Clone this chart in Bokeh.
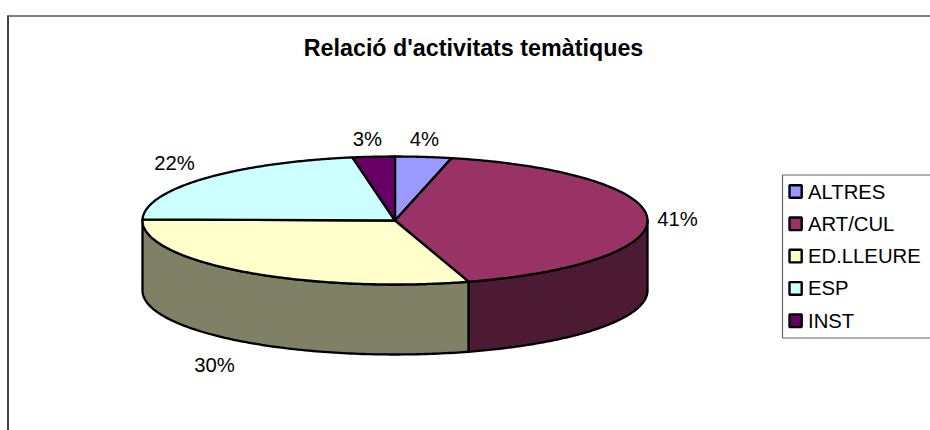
import numpy as np
from bokeh.embed import file_html
from bokeh.models import Range1d
from bokeh.plotting import figure
from bokeh.resources import INLINE
from bokeh.core.properties import value

TITLE = "Relació d'activitats temàtiques"
categories = ["ALTRES", "ART/CUL", "ED.LLEURE", "ESP", "INST"]
values = [3.6, 41.7, 30.0, 22.0, 2.7]
percent_labels = ["4%", "41%", "30%", "22%", "3%"]
top_colors = ["#9999FF", "#993366", "#FFFFCC", "#CCFFFF", "#660066"]
wall_colors = ["#4D4D80", "#4D1A33", "#808066", "#668080", "#330033"]

# layout, in screenshot pixels
CX, CY, RX, RY, DEPTH = 394.5, 220.0, 252.5, 64.0, 70.0
LABEL_POS = [(424, 138), (677, 218), (214, 364), (174, 162), (367, 138)]
FONT = value("Liberation Sans")

p = figure(width=930, height=430, output_backend="svg", toolbar_location=None,
           x_range=Range1d(0, 930), y_range=Range1d(430, 0), min_border=0,
           outline_line_color=None, background_fill_color="white")
p.axis.visible = False
p.grid.visible = False

# frame
p.line([7.5, 7.5], [15, 430], line_color="black", line_width=1.5)
p.line([7, 930], [15.5, 15.5], line_color="#555555", line_width=1.5)


def ell(theta):
    return CX + RX * np.sin(theta), CY - RY * np.cos(theta)


fractions = np.array(values) / sum(values)
edges = np.concatenate([[0], np.cumsum(fractions)]) * 2 * np.pi

# side walls (only the front half, pi/2 .. 3pi/2, is visible)
for i in range(len(values)):
    a = max(edges[i], np.pi / 2)
    b = min(edges[i + 1], 3 * np.pi / 2)
    if b <= a:
        continue
    t = np.linspace(a, b, 120)
    x, y = ell(t)
    p.patch(np.r_[x, x[::-1]], np.r_[y, y[::-1] + DEPTH],
            fill_color=wall_colors[i], line_color="black", line_width=2.3, line_join="round")

# top slices
for i in range(len(values)):
    t = np.linspace(edges[i], edges[i + 1], 160)
    x, y = ell(t)
    p.patch(np.r_[CX, x], np.r_[CY, y],
            fill_color=top_colors[i], line_color="black", line_width=2.3, line_join="round")

# percentage labels
p.text([q[0] for q in LABEL_POS], [q[1] for q in LABEL_POS],
       text=percent_labels, text_font=FONT, text_font_size="20.3px",
       text_color="#000000", text_align="center", text_baseline="middle")

# title
p.text([473], [47], text=[TITLE], text_font=FONT, text_font_size="23.3px",
       text_font_style="bold", text_color="#000000", text_align="center", text_baseline="middle")

# legend
p.line([930, 782, 782, 930], [174.5, 174.5, 337.5, 337.5], line_color="#666666", line_width=1.2)
row_y = [191 + 32.3 * i for i in range(len(categories))]
p.quad(left=[789] * 5, right=[801.2] * 5,
       top=[y - 6.3 for y in row_y], bottom=[y + 6.3 for y in row_y],
       fill_color=top_colors, line_color="black", line_width=2.4)
p.text([807.5] * 5, row_y, text=categories, text_font=FONT, text_font_size="20.3px",
       text_color="#000000", text_align="left", text_baseline="middle")

open("out.html", "w").write(file_html(p, INLINE))
